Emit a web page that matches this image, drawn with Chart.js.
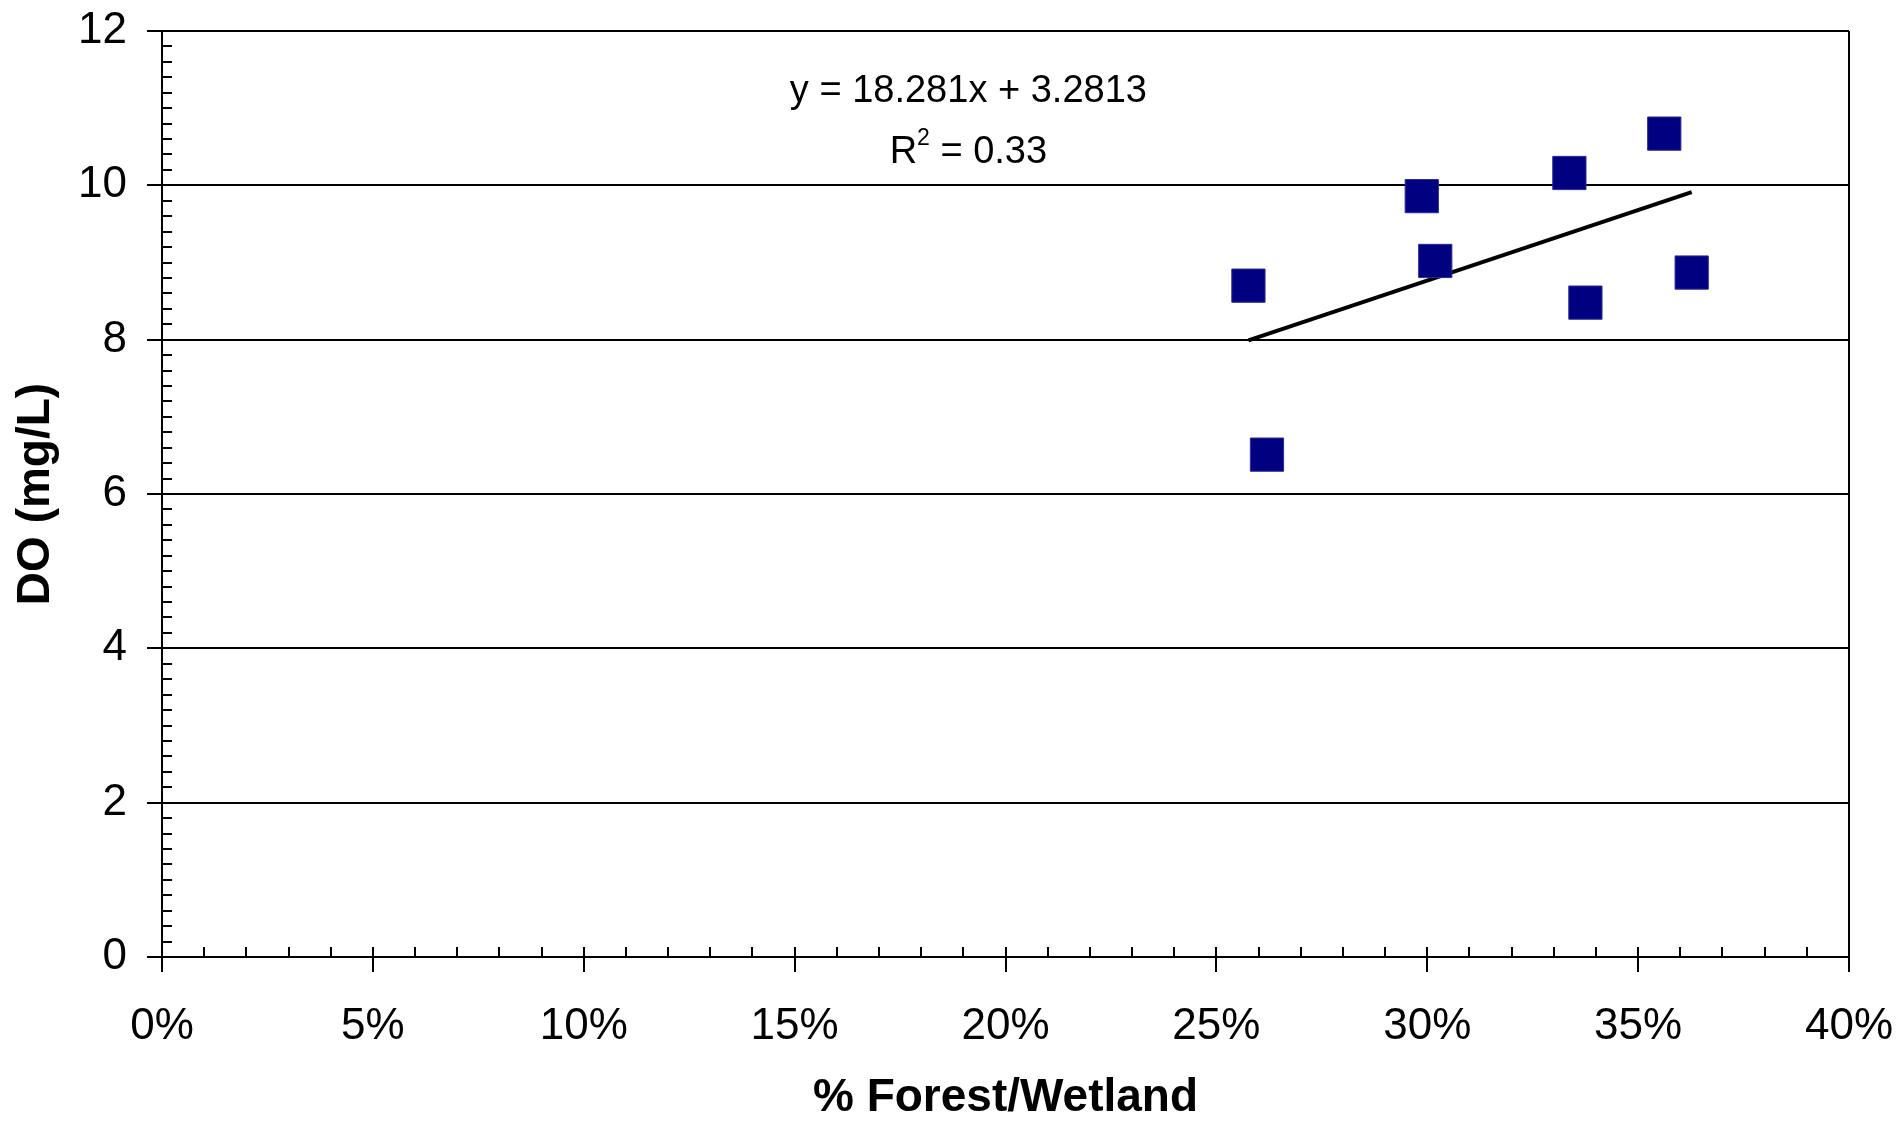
<!DOCTYPE html>
<html>
<head>
<meta charset="utf-8">
<script src="https://cdn.jsdelivr.net/npm/chart.js@4.4.0/dist/chart.umd.min.js"></script>
<style>
    html, body { margin: 0; padding: 0; background: #fff; }
    #wrap { width: 1900px; height: 1121px; }
</style>
</head>
<body>
<div id="wrap"><canvas id="myChart"></canvas></div>
<script>
// fraction forest/wetland vs dissolved oxygen
var forestPct = [0.2576, 0.2620, 0.2987, 0.3019, 0.3337, 0.3375, 0.3562, 0.3627];
var doValues = [8.70, 6.51, 9.86, 9.02, 10.16, 8.48, 10.67, 8.87];

var xTicks = [0, 0.05, 0.10, 0.15, 0.20, 0.25, 0.30, 0.35, 0.40];
var yTicks = [0, 2, 4, 6, 8, 10, 12];

// excel trendline as printed on the chart
var slope = 18.281;
var intercept = 3.2813;
var rSquared = "0.33";

var fontFamily = 'Arial, "Liberation Sans", sans-serif';

var points = [];
for (var i in forestPct) {
    points.push({x: forestPct[i], y: doValues[i]});
}

var xMin = Math.min.apply(null, forestPct);
var xMax = Math.max.apply(null, forestPct);
var trend = [
    {x: xMin, y: slope * xMin + intercept},
    {x: xMax, y: slope * xMax + intercept}
];

var extras = {
    id: 'extras',
    afterDraw: function(chart) {
        var ctx = chart.ctx;
        var a = chart.chartArea;
        var xs = chart.scales.x;
        var ys = chart.scales.y;
        ctx.save();
        ctx.strokeStyle = '#000';
        ctx.lineWidth = 2;
        ctx.beginPath();
        // minor ticks on y, every 0.2
        for (var k = 1; k < 60; k++) {
            if (k % 10 === 0) continue;
            var py = Math.round(ys.getPixelForValue(k * 0.2));
            ctx.moveTo(a.left, py);
            ctx.lineTo(a.left + 10, py);
        }
        // minor ticks on x, every 1%
        for (var j = 1; j < 40; j++) {
            var px = Math.round(xs.getPixelForValue(j / 100));
            ctx.moveTo(px, a.bottom);
            ctx.lineTo(px, a.bottom - 10);
        }
        // right edge of the frame
        ctx.moveTo(a.right, a.top);
        ctx.lineTo(a.right, a.bottom);
        ctx.stroke();

        // equation text
        ctx.fillStyle = '#000';
        ctx.textAlign = 'center';
        ctx.textBaseline = 'middle';
        ctx.font = '38px ' + fontFamily;
        var ex = xs.getPixelForValue(0.1912);
        ctx.fillText('y = ' + slope + 'x + ' + intercept, ex, ys.getPixelForValue(11.21));

        var ry = ys.getPixelForValue(10.43);
        var s1 = 'R', s3 = ' = ' + rSquared;
        var w1 = ctx.measureText(s1).width;
        var w3 = ctx.measureText(s3).width;
        ctx.font = '23px ' + fontFamily;
        var w2 = ctx.measureText('2').width;
        var start = ex - (w1 + w2 + w3) / 2;
        ctx.textAlign = 'left';
        ctx.font = '38px ' + fontFamily;
        ctx.fillText(s1, start, ry);
        ctx.fillText(s3, start + w1 + w2, ry);
        ctx.font = '23px ' + fontFamily;
        ctx.fillText('2', start + w1, ry - 13);
        ctx.restore();
    }
};

var ctx = document.getElementById('myChart');

var chart = new Chart(ctx, {
    type: 'scatter',
    data: {
        datasets: [{
            label: 'DO',
            data: points,
            pointStyle: 'rect',
            pointRadius: 23.5,
            pointHoverRadius: 23.5,
            backgroundColor: '#000080',
            borderColor: '#2a2a9a',
            borderWidth: 1
        }, {
            label: 'Linear',
            type: 'line',
            data: trend,
            borderColor: '#000',
            borderWidth: 4,
            pointRadius: 0,
            fill: false
        }]
    },
    options: {
        responsive: true,
        maintainAspectRatio: false,
        animation: false,
        layout: {
            padding: {top: 31, right: 51, left: 0, bottom: 0}
        },
        plugins: {
            legend: {display: false},
            tooltip: {enabled: false}
        },
        scales: {
            x: {
                type: 'linear',
                min: 0,
                max: 0.40,
                afterBuildTicks: function(scale) {
                    scale.ticks = xTicks.map(function(v) { return {value: v}; });
                },
                afterFit: function(scale) {
                    scale.height = 164;
                    scale.paddingLeft = 0;
                    scale.paddingRight = 0;
                },
                border: {display: true, color: '#000', width: 2},
                grid: {
                    drawOnChartArea: false,
                    drawTicks: true,
                    tickLength: 15,
                    color: '#000',
                    lineWidth: 2
                },
                ticks: {
                    padding: 28,
                    color: '#000',
                    font: {family: fontFamily, size: 44},
                    maxRotation: 0,
                    callback: function(v) { return Math.round(v * 100) + '%'; }
                },
                title: {
                    display: true,
                    text: '% Forest/Wetland',
                    color: '#000',
                    font: {family: fontFamily, size: 46, weight: 'bold', lineHeight: 1},
                    padding: {top: 0, bottom: 0}
                }
            },
            y: {
                min: 0,
                max: 12,
                afterBuildTicks: function(scale) {
                    scale.ticks = yTicks.map(function(v) { return {value: v}; });
                },
                afterFit: function(scale) {
                    scale.width = 162;
                    scale.paddingTop = 0;
                    scale.paddingBottom = 0;
                },
                border: {display: true, color: '#000', width: 2},
                grid: {
                    color: '#000',
                    lineWidth: 2,
                    drawTicks: true,
                    tickLength: 15
                },
                ticks: {
                    padding: 20,
                    color: '#000',
                    font: {family: fontFamily, size: 44}
                },
                title: {
                    display: true,
                    text: 'DO (mg/L)',
                    color: '#000',
                    font: {family: fontFamily, size: 46, weight: 'bold', lineHeight: 1},
                    padding: {top: 13, bottom: 0}
                }
            }
        }
    },
    plugins: [extras]
});
</script>
</body>
</html>
